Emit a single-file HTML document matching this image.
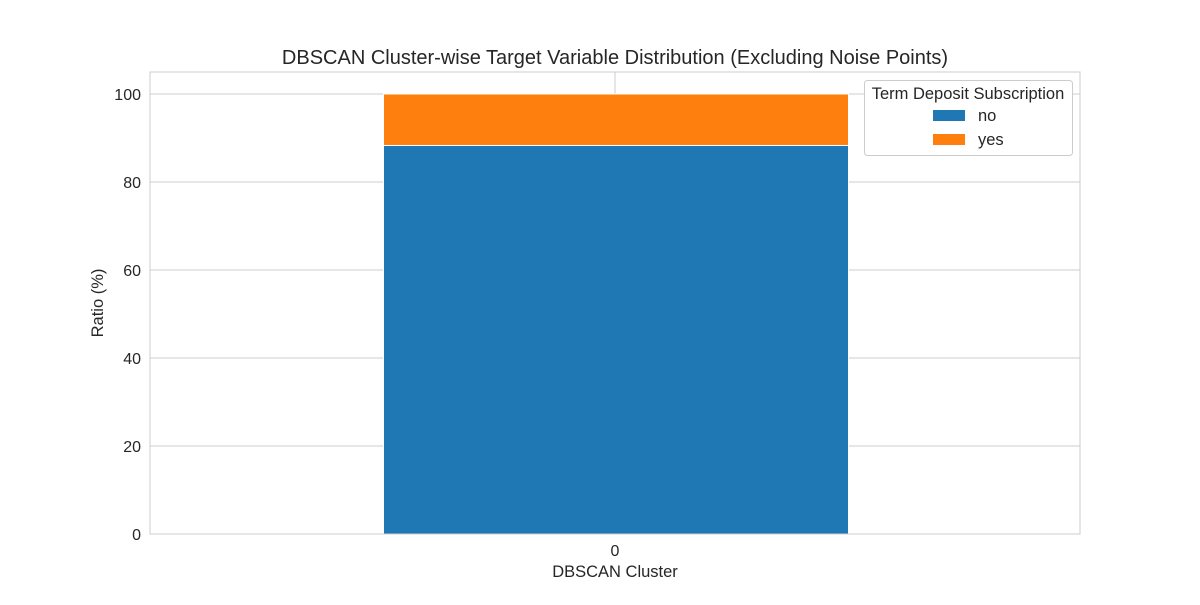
<!DOCTYPE html>
<html><head><meta charset="utf-8"><style>
body{margin:0;background:#fff;font-family:"Liberation Sans",Arial,sans-serif;}
svg text{font-family:"Liberation Sans",Arial,sans-serif;fill:#262626;}
</style></head><body>
<svg id="chart" width="1200" height="600">
<rect x="0" y="0" width="1200" height="600" fill="#fff"/>
<g id="grid"></g>
<g id="bars"></g>
<rect x="150" y="72" width="930" height="462" fill="none" stroke="#cccccc" stroke-width="1"/>
<g id="ticks"></g>
<text x="615" y="64" text-anchor="middle" font-size="20">DBSCAN Cluster-wise Target Variable Distribution (Excluding Noise Points)</text>
<text x="615" y="577" text-anchor="middle" font-size="16.5">DBSCAN Cluster</text>
<text x="103" y="303" text-anchor="middle" font-size="16.5" transform="rotate(-90 103 303)">Ratio (%)</text>
<g>
<rect x="864.5" y="80.5" width="208" height="75" rx="3" fill="#fff" stroke="#cccccc"/>
<text x="968" y="99" text-anchor="middle" font-size="16.5">Term Deposit Subscription</text>
<rect x="933" y="110" width="32" height="11" fill="#1f77b4"/>
<text x="978" y="121" font-size="16.5">no</text>
<rect x="933" y="134" width="32" height="11" fill="#ff7f0e"/>
<text x="978" y="145" font-size="16.5">yes</text>
</g>
</svg>
<script>
const categories = ["0"];
const noValues = [88.3];
const yesValues = [11.7];
const yTicks = [0, 20, 40, 60, 80, 100];
const ns = "http://www.w3.org/2000/svg";
const L = 150, R = 1080, T = 72, B = 534, yMax = 105;
function y(v){ return B - v / yMax * (B - T); }
function xc(i){ return L + 1 + (i + 0.5) * (R - L) / categories.length; }
const bw = (R - L) / categories.length * 0.5;
const grid = document.getElementById('grid'), bars = document.getElementById('bars'), ticks = document.getElementById('ticks');
function mk(tag, attrs, parent){ const e = document.createElementNS(ns, tag); for (const k in attrs) e.setAttribute(k, attrs[k]); parent.appendChild(e); return e; }
yTicks.forEach(t => {
  const g = mk('line', {x1:L, x2:R, y1:y(t), y2:y(t), stroke:'#cccccc'}, grid);
  
  
  const tx = mk('text', {x:L-9, y:y(t)+6, 'text-anchor':'end', 'font-size':16}, ticks);
  tx.textContent = t;
  
  
});
categories.forEach((c, i) => {
  const gl = mk('line', {x1:xc(i)-1, x2:xc(i)-1, y1:T, y2:B, stroke:'#cccccc'}, grid);
  
  
  const b1 = mk('rect', {x:xc(i)-bw/2, y:y(noValues[i]), width:bw, height:y(0)-y(noValues[i]), fill:'#1f77b4', stroke:'#fff', 'stroke-width':1}, bars);
  
  
  const top = noValues[i] + yesValues[i];
  const b2 = mk('rect', {x:xc(i)-bw/2, y:y(top), width:bw, height:y(noValues[i])-y(top), fill:'#ff7f0e', stroke:'#fff', 'stroke-width':1}, bars);
  
  
  const tx = mk('text', {x:xc(i)-1, y:556, 'text-anchor':'middle', 'font-size':16}, ticks);
  tx.textContent = c;
  
  
});
</script>
</body></html>
